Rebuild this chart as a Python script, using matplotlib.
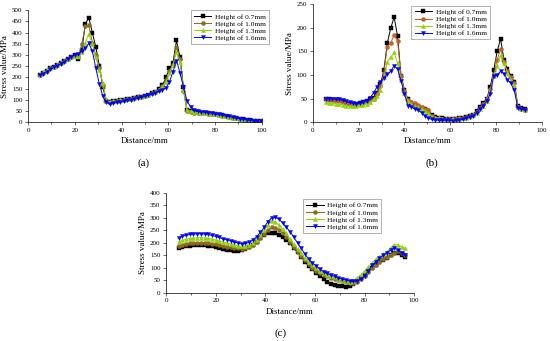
import matplotlib
matplotlib.use("Agg")
import matplotlib.pyplot as plt
from matplotlib.ticker import MultipleLocator

plt.rcParams['font.family'] = ['Liberation Serif', 'DejaVu Serif']

labels = ["Height of 0.7mm", "Height of 1.0mm", "Height of 1.3mm", "Height of 1.6mm"]

# ---- panel (a)
x_a = [5, 6.5, 8, 9.5, 11, 12.5, 14, 15.5, 17, 18.5,
       20, 21.5, 23, 24.5, 26, 27.5, 29, 30.5, 32, 33.5,
       35, 36.5, 38, 39.5, 41, 42.5, 44, 45.5, 47, 48.5,
       50, 51.5, 53, 54.5, 56, 57.5, 59, 60.5, 62, 63.5,
       65, 66.5, 68, 69.5, 71, 72.5, 74, 75.5, 77, 78.5,
       80, 81.5, 83, 84.5, 86, 87.5, 89, 90.5, 92, 93.5,
       95, 96.5, 98, 99.5]
a_07 = [212, 220, 230, 240, 248, 255, 263, 272, 280, 290,
        298, 280, 322, 440, 466, 400, 335, 252, 156, 92,
        88, 92, 95, 97, 99, 101, 104, 107, 110, 114,
        118, 123, 128, 135, 150, 165, 200, 240, 265, 365,
        290, 155, 55, 48, 45, 43, 42, 41, 40, 38,
        36, 33, 30, 27, 24, 20, 17, 14, 12, 10,
        8, 7, 6, 5]
a_10 = [212, 220, 230, 240, 248, 255, 263, 272, 280, 290,
        295, 290, 350, 430, 432, 355, 300, 240, 165, 95,
        88, 92, 95, 97, 99, 101, 104, 107, 110, 114,
        118, 123, 128, 134, 145, 160, 190, 230, 255, 335,
        280, 140, 48, 44, 42, 41, 40, 39, 38, 37,
        35, 32, 29, 26, 23, 19, 16, 13, 11, 9,
        7, 6, 5, 4]
a_13 = [215, 222, 231, 240, 248, 256, 264, 272, 280, 290,
        297, 295, 312, 355, 395, 350, 290, 235, 175, 100,
        90, 92, 95, 97, 99, 101, 104, 107, 110, 114,
        118, 123, 128, 134, 145, 158, 180, 220, 255, 315,
        270, 145, 55, 48, 45, 43, 41, 40, 39, 37,
        35, 32, 29, 26, 23, 19, 16, 13, 11, 9,
        7, 6, 5, 4]
a_16 = [210, 217, 226, 236, 244, 252, 261, 270, 280, 292,
        300, 305, 318, 330, 352, 318, 240, 170, 115, 90,
        80, 85, 88, 91, 94, 97, 100, 104, 107, 111,
        115, 120, 125, 130, 138, 145, 152, 180, 225, 275,
        220, 155, 95, 68, 55, 48, 45, 44, 42, 40,
        37, 34, 31, 28, 25, 21, 18, 15, 13, 10,
        8, 6, 5, 4]

# ---- panel (b)
x_b = [5.5, 7, 8.5, 10, 11.5, 13, 14.5, 16, 17.5, 19,
       20.5, 22, 23.5, 25, 26.5, 28, 29.5, 31, 32.5, 34,
       35.5, 37, 38.5, 40, 41.5, 43, 44.5, 46, 47.5, 49,
       50.5, 52, 53.5, 55, 56.5, 58, 59.5, 61, 62.5, 64,
       65.5, 67, 68.5, 70, 71.5, 73, 74.5, 76, 77.5, 79,
       80.5, 82, 83.5, 85, 86.5, 88, 89.5, 91, 92.5]
b_07 = [49, 48, 47, 47, 46, 44, 41, 39, 38, 38,
        40, 42, 44, 48, 52, 62, 80, 110, 168, 200,
        223, 182, 98, 68, 48, 40, 36, 33, 30, 27,
        24, 14, 10, 8, 8, 7, 6, 6, 7, 8,
        9, 10, 12, 16, 24, 33, 40, 50, 75, 110,
        150, 177, 132, 112, 98, 85, 35, 30, 27]
b_10 = [48, 47, 46, 45, 44, 42, 40, 38, 37, 37,
        39, 41, 43, 46, 50, 60, 76, 105, 160, 168,
        185, 172, 98, 66, 46, 42, 40, 36, 32, 28,
        25, 12, 9, 8, 7, 7, 6, 6, 7, 8,
        9, 10, 12, 16, 22, 30, 38, 48, 70, 100,
        132, 155, 128, 108, 95, 82, 33, 28, 26]
b_13 = [42, 41, 40, 39, 38, 37, 35, 34, 34, 35,
        36, 37, 39, 42, 48, 55, 68, 95, 128, 138,
        148, 125, 90, 62, 45, 38, 34, 31, 28, 24,
        20, 11, 9, 8, 7, 7, 6, 6, 6, 7,
        8, 9, 11, 14, 20, 28, 35, 45, 65, 98,
        120, 142, 125, 105, 90, 78, 32, 28, 26]
b_16 = [50, 50, 50, 50, 49, 47, 44, 42, 40, 39,
        40, 42, 45, 52, 62, 75, 85, 94, 102, 108,
        120, 112, 88, 60, 35, 32, 28, 25, 20, 12,
        8, 6, 5, 4, 4, 4, 4, 3, 4, 5,
        6, 8, 10, 13, 20, 28, 35, 45, 60, 98,
        100, 108, 103, 90, 82, 68, 30, 28, 26]

# ---- panel (c)
x_c = [5, 6.5, 8, 9.5, 11, 12.5, 14, 15.5, 17, 18.5,
       20, 21.5, 23, 24.5, 26, 27.5, 29, 30.5, 32, 33.5,
       35, 36.5, 38, 39.5, 41, 42.5, 44, 45.5, 47, 48.5,
       50, 51.5, 53, 54.5, 56, 57.5, 59, 60.5, 62, 63.5,
       65, 66.5, 68, 69.5, 71, 72.5, 74, 75.5, 77, 78.5,
       80, 81.5, 83, 84.5, 86, 87.5, 89, 90.5, 92, 93.5,
       95, 96.5]
c_07 = [178, 183, 187, 189, 190, 190, 190, 190, 189, 187,
        182, 178, 175, 172, 170, 168, 168, 170, 174, 182,
        192, 205, 218, 230, 238, 240, 238, 232, 225, 212,
        198, 180, 162, 145, 125, 108, 95, 80, 68, 55,
        45, 36, 31, 28, 26, 25, 28, 35, 48, 60,
        72, 88, 100, 112, 122, 132, 140, 150, 158, 160,
        152, 145]
c_10 = [188, 192, 196, 198, 200, 201, 201, 200, 199, 197,
        194, 191, 188, 185, 182, 180, 178, 177, 178, 182,
        190, 202, 218, 235, 252, 262, 260, 252, 240, 225,
        205, 185, 165, 148, 130, 115, 100, 88, 80, 72,
        66, 60, 55, 50, 46, 42, 40, 40, 45, 55,
        68, 85, 100, 112, 125, 135, 142, 150, 160, 168,
        158, 150]
c_13 = [205, 210, 215, 218, 220, 221, 221, 220, 218, 215,
        212, 208, 204, 200, 196, 192, 188, 186, 187, 190,
        198, 212, 230, 250, 272, 288, 285, 272, 255, 238,
        215, 195, 175, 158, 140, 125, 110, 98, 88, 80,
        72, 66, 62, 57, 52, 48, 45, 48, 60, 72,
        88, 105, 120, 135, 145, 155, 165, 180, 193, 192,
        185, 178]
c_16 = [220, 226, 231, 234, 236, 237, 237, 236, 234, 230,
        226, 222, 217, 213, 209, 204, 200, 196, 198, 203,
        212, 225, 242, 262, 285, 300, 303, 295, 280, 262,
        245, 222, 200, 178, 155, 135, 120, 108, 95, 85,
        78, 72, 66, 61, 56, 52, 49, 46, 48, 55,
        68, 88, 110, 125, 138, 150, 160, 172, 180, 172,
        160, 150]

markers = ['s', 'o', '^', 'v']
cols_ac = ['#000000', '#8c6a1e', '#8fd400', '#0000ff']
cols_b = ['#000000', '#c0602a', '#8fd400', '#0000ff']


def panel(rect, x, series, cols, ylim, yticks, leg_box, tag, tag_xy):
    ax = fig.add_axes(rect)
    for ys, m, c, lab in zip(series, markers, cols, labels):
        ax.plot(x, ys, color=c, marker=m, markersize=2.9, linewidth=0.7,
                markeredgewidth=0.3, label=lab)
    ax.set_xlim(0, 100)
    ax.set_ylim(*ylim)
    ax.set_yticks(yticks)
    ax.xaxis.set_major_locator(MultipleLocator(20))
    ax.xaxis.set_minor_locator(MultipleLocator(10))
    ax.spines['top'].set_visible(False)
    ax.spines['right'].set_visible(False)
    for s in ['left', 'bottom']:
        ax.spines[s].set_linewidth(0.5)
    ax.tick_params(labelsize=5, length=2, width=0.4, pad=2)
    ax.tick_params(which='minor', length=1.2, width=0.4)
    ax.set_xlabel("Distance/mm", fontsize=6.5, labelpad=3)
    ax.set_ylabel("Stress value/MPa", fontsize=6.5, labelpad=2)
    leg = ax.legend(loc='upper left', bbox_to_anchor=leg_box, fontsize=5.3,
                    frameon=True, fancybox=False, borderpad=0.45,
                    labelspacing=0.12, handlelength=2.4, handletextpad=0.5,
                    borderaxespad=0)
    leg.get_frame().set_edgecolor('#777777')
    leg.get_frame().set_linewidth(0.5)
    fig.text(tag_xy[0], tag_xy[1], tag, fontsize=8, ha='center', va='center')
    return ax


fig = plt.figure(figsize=(5.5, 3.41), dpi=100)

panel([0.051, 0.642, 0.425, 0.328], x_a, [a_07, a_10, a_13, a_16], cols_ac,
      (0, 500), range(0, 501, 50), (0.695, 1.0), "(a)", (144 / 550, 1 - 163 / 341))
panel([0.569, 0.642, 0.416, 0.345], x_b, [b_07, b_10, b_13, b_16], cols_b,
      (0, 250), range(0, 251, 50), (0.43, 0.99), "(b)", (432 / 550, 1 - 163 / 341))
panel([0.302, 0.141, 0.451, 0.293], x_c, [c_07, c_10, c_13, c_16], cols_ac,
      (0, 400), range(0, 401, 50), (0.55, 0.94), "(c)", (281 / 550, 1 - 333 / 341))

fig.savefig("out.png", dpi=100)
